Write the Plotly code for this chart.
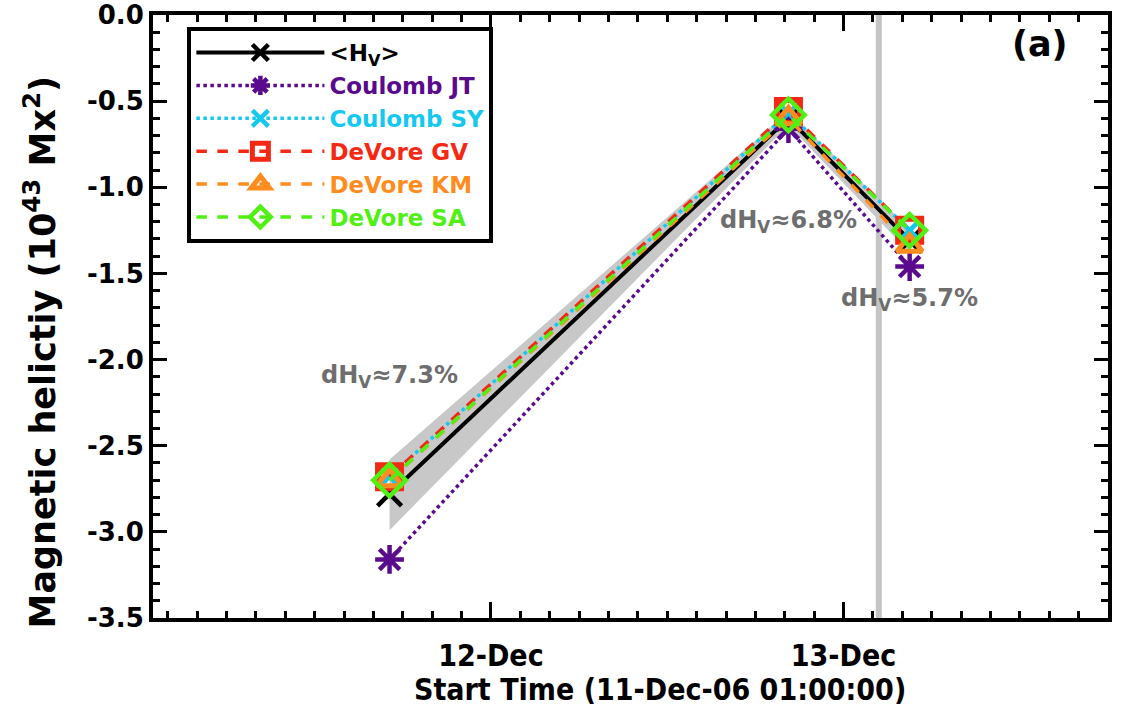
import plotly.graph_objects as go

# ---------------- data ----------------
times = ["2006-12-11 17:06", "2006-12-12 20:15", "2006-12-13 04:30"]
hv_mean = [-2.78, -0.60, -1.31]
coulomb_jt = [-3.16, -0.66, -1.46]
coulomb_sy = [-2.68, -0.57, -1.25]
devore_gv = [-2.68, -0.56, -1.25]
devore_km = [-2.70, -0.60, -1.34]
devore_sa = [-2.70, -0.58, -1.25]
band_upper = [-2.58, -0.56, -1.24]
band_lower = [-2.99, -0.64, -1.38]
dhv_labels = ["7.3%", "6.8%", "5.7%"]
dhv_label_y = [-2.10, -1.20, -1.65]
flare_time = "2006-12-13 02:24"
x_range = ["2006-12-11 01:00", "2006-12-13 18:00"]
major_ticks = ["2006-12-12 00:00", "2006-12-13 00:00"]
major_text = ["12-Dec", "13-Dec"]
y_ticks = [0.0, -0.5, -1.0, -1.5, -2.0, -2.5, -3.0, -3.5]
y_tick_text = ["0.0", "-0.5", "-1.0", "-1.5", "-2.0", "-2.5", "-3.0", "-3.5"]

NARROW = "Liberation Sans Narrow, DejaVu Sans Condensed, Arial Narrow, sans-serif"

fig = go.Figure()

# uncertainty band
fig.add_trace(go.Scatter(
    x=times + times[::-1], y=band_upper + band_lower[::-1],
    fill="toself", fillcolor="#c8c8c8", line=dict(width=0),
    mode="lines", showlegend=False, hoverinfo="skip"))

series = [
    ("&lt;H<sub>V</sub>&gt;", hv_mean, "#000000", "solid", "x-thin-open", 24, 4.5, 4),
    ("Coulomb JT", coulomb_jt, "#5a0a8c", "dot", "asterisk-open", 24, 4.5, 3.5),
    ("Coulomb SY", coulomb_sy, "#14c8f0", "dot", "x-thin-open", 20, 4.5, 3.5),
    ("DeVore GV", devore_gv, "#f52814", "dash", "square-open", 23, 6, 3.5),
    ("DeVore KM", devore_km, "#ff8c1e", "dash", "triangle-up-open", 22, 5, 3.5),
    ("DeVore SA", devore_sa, "#50f014", "dash", "diamond-open", 25, 4.5, 3.5),
]
for name, ys, col, dash, sym, msize, mlw, lw in series:
    fig.add_trace(go.Scatter(
        x=times, y=ys, mode="lines+markers",
        name=f'<span style="color:{col}">{name}</span>',
        line=dict(color=col, width=lw, dash=dash),
        marker=dict(symbol=sym, size=msize, color=col,
                    line=dict(color=col, width=mlw))))

# flare vertical line
fig.add_shape(type="line", x0=flare_time, x1=flare_time, xref="x",
              y0=0, y1=1, yref="paper", layer="below",
              line=dict(color="#c4c4c4", width=6))

for t, lab, yy in zip(times, dhv_labels, dhv_label_y):
    fig.add_annotation(x=t, y=yy, xref="x", yref="y", showarrow=False,
                       text=f"dH<sub>V</sub>≈{lab}",
                       font=dict(family="DejaVu Sans", size=24, color="#6e6e6e",
                                 weight="bold"))

fig.add_annotation(x=0.96, y=0.952, xref="paper", yref="paper", showarrow=False,
                   text="(a)", xanchor="right", yanchor="middle",
                   font=dict(family="DejaVu Sans", size=35, color="black",
                             weight="bold"))

# axis titles (placed as annotations to match the reference offsets)
fig.add_annotation(x=0.531, y=-0.119, xref="paper", yref="paper", showarrow=False,
                   text="Start Time (11-Dec-06 01:00:00)", xanchor="center",
                   yanchor="middle",
                   font=dict(family=NARROW, size=30, color="black", weight="bold"))
fig.add_annotation(x=-0.118, y=0.441, xref="paper", yref="paper", showarrow=False,
                   text="Magnetic helictiy (10<sup>43</sup> Mx<sup>2</sup>)",
                   textangle=-90, xanchor="center", yanchor="middle",
                   font=dict(family="DejaVu Sans", size=35, color="black",
                             weight="bold"))

axis_common = dict(showline=True, linecolor="black", linewidth=4, mirror="ticks",
                   ticks="inside", tickcolor="black", tickwidth=3, showgrid=False,
                   zeroline=False, automargin=False)

fig.update_xaxes(
    type="date", range=x_range, tickmode="array", tickvals=major_ticks,
    ticktext=major_text, ticklen=16, ticklabelstandoff=8,
    tickfont=dict(family=NARROW, size=30, color="black", weight="bold"),
    minor=dict(ticks="inside", dtick=2 * 3600 * 1000, tick0="2006-12-12 00:00",
               ticklen=7, tickwidth=3, tickcolor="black", showgrid=False),
    **axis_common)

fig.update_yaxes(
    range=[-3.5, 0.0], tickmode="array", tickvals=y_ticks, ticktext=y_tick_text,
    ticklen=14,
    tickfont=dict(family="DejaVu Sans", size=26, color="black", weight="bold"),
    minor=dict(ticks="inside", dtick=0.1, ticklen=7, tickwidth=3, tickcolor="black",
               showgrid=False),
    **axis_common)

fig.update_layout(
    width=1121, height=715,
    margin=dict(l=153, r=13, t=15, b=97),
    plot_bgcolor="white", paper_bgcolor="white",
    showlegend=True,
    legend=dict(x=0.036, y=0.98, xanchor="left", yanchor="top",
                bgcolor="white", bordercolor="black", borderwidth=4,
                font=dict(family="DejaVu Sans", size=23, weight="bold"),
                itemwidth=128, tracegroupgap=0),
)

fig.write_html("out.html")
